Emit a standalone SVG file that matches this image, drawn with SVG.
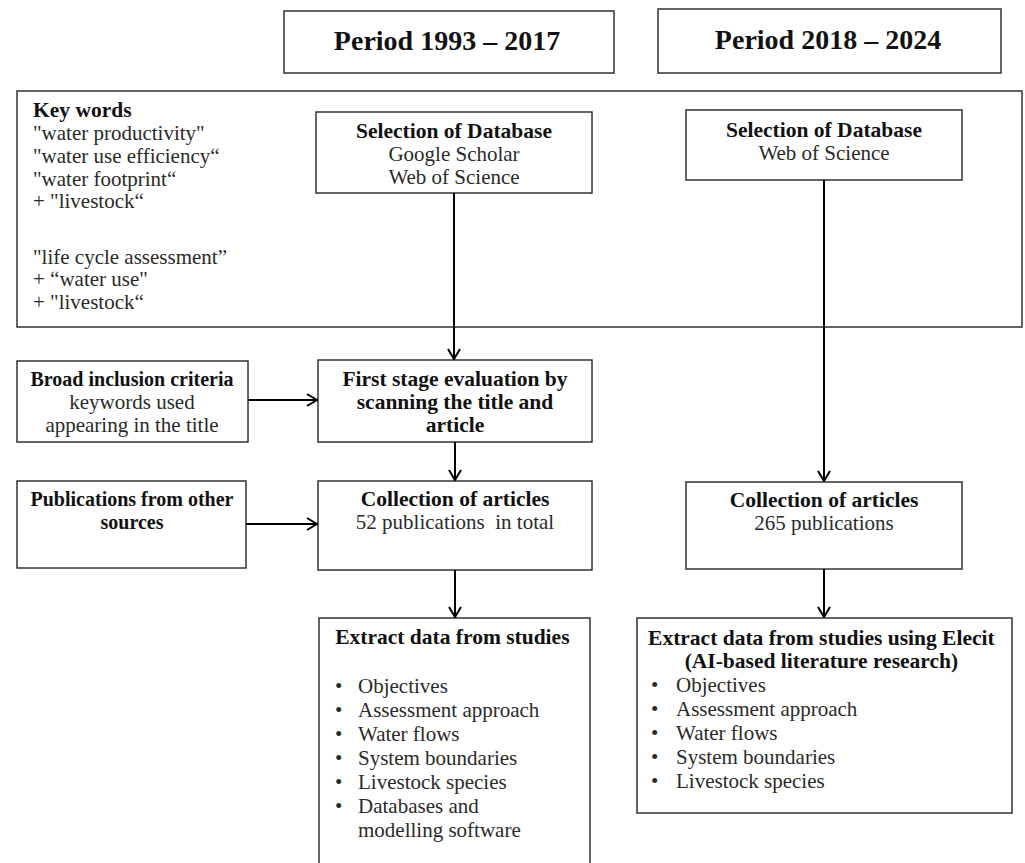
<svg xmlns="http://www.w3.org/2000/svg" width="1025" height="863" viewBox="0 0 1025 863">
<defs>
<marker id="arr" viewBox="0 0 12 14" refX="11" refY="7" markerWidth="12" markerHeight="14" markerUnits="userSpaceOnUse" orient="auto">
<path d="M1,1 L11,7 L1,13" fill="none" stroke="#000" stroke-width="2"/>
</marker>
<style>
.box{fill:#fff;stroke:#333;stroke-width:1.5}
.t{font-family:"Liberation Serif","Times New Roman",serif;font-size:21px;fill:#2a2a2a}
.b{font-weight:bold;fill:#111;font-size:21.5px}
.s{font-size:20px}
.c{text-anchor:middle}
.h{font-family:"Liberation Serif","Times New Roman",serif;font-size:28px;font-weight:bold;fill:#111;text-anchor:middle}
.con{stroke:#000;stroke-width:2;fill:none}
</style>
</defs>
<rect width="1025" height="863" fill="#fff"/>

<g id="period1"><rect class="box" x="284" y="11" width="330" height="62"/><text class="h" x="447" y="50">Period 1993 – 2017</text></g>
<g id="period2"><rect class="box" x="658" y="9" width="343" height="64"/><text class="h" x="828" y="49">Period 2018 – 2024</text></g>

<g id="keywords"><rect class="box" x="17" y="91" width="1005" height="236"/>
<text class="t"><tspan class="b" x="33" y="117">Key words</tspan>
<tspan x="33" y="140">"water productivity"</tspan>
<tspan x="33" y="163">"water use efficiency“</tspan>
<tspan x="33" y="186">"water footprint“</tspan>
<tspan x="33" y="208">+ "livestock“</tspan>
<tspan x="33" y="264">"life  cycle assessment”</tspan>
<tspan x="33" y="286">+ “water use"</tspan>
<tspan x="33" y="309">+ "livestock“</tspan></text></g>

<g id="db1"><rect class="box" x="316" y="112" width="276" height="81"/>
<text class="t c"><tspan class="b" x="454" y="138">Selection of Database</tspan><tspan x="454" y="161">Google Scholar</tspan><tspan x="454" y="184">Web of Science</tspan></text></g>
<g id="db2"><rect class="box" x="686" y="110" width="276" height="70"/>
<text class="t c"><tspan class="b" x="824" y="137">Selection of Database</tspan><tspan x="824" y="160">Web of Science</tspan></text></g>

<g id="broad"><rect class="box" x="17" y="361" width="231" height="81"/>
<text class="t c"><tspan class="b s" x="132" y="386">Broad inclusion criteria</tspan><tspan x="132" y="409">keywords used</tspan><tspan x="132" y="432">appearing in the title</tspan></text></g>
<g id="first"><rect class="box" x="318" y="360" width="274" height="82"/>
<text class="t c b"><tspan x="455" y="386">First stage evaluation by</tspan><tspan x="455" y="409">scanning the title and</tspan><tspan x="455" y="432">article</tspan></text></g>

<g id="other"><rect class="box" x="17" y="481" width="229" height="87"/>
<text class="t c b s"><tspan x="132" y="506">Publications from other</tspan><tspan x="132" y="529">sources</tspan></text></g>
<g id="coll1"><rect class="box" x="318" y="481" width="274" height="89"/>
<text class="t c"><tspan class="b" x="455" y="506">Collection of articles</tspan><tspan x="455" y="529" xml:space="preserve">52 publications  in total</tspan></text></g>
<g id="coll2"><rect class="box" x="686" y="482" width="276" height="87"/>
<text class="t c"><tspan class="b" x="824" y="507">Collection of articles</tspan><tspan x="824" y="530">265 publications</tspan></text></g>

<g id="extract1"><rect class="box" x="319" y="618" width="271" height="260"/>
<text class="t"><tspan class="b c" x="455" y="644">Extract data from studies</tspan>
<tspan x="335" y="693">•</tspan><tspan x="358" y="693">Objectives</tspan>
<tspan x="335" y="717">•</tspan><tspan x="358" y="717">Assessment approach</tspan>
<tspan x="335" y="741">•</tspan><tspan x="358" y="741">Water flows</tspan>
<tspan x="335" y="765">•</tspan><tspan x="358" y="765">System boundaries</tspan>
<tspan x="335" y="789">•</tspan><tspan x="358" y="789">Livestock species</tspan>
<tspan x="335" y="813">•</tspan><tspan x="358" y="813">Databases and</tspan>
<tspan x="358" y="837">modelling software</tspan></text></g>

<g id="extract2"><rect class="box" x="637" y="618" width="375" height="195"/>
<text class="t"><tspan class="b c" x="824" y="645">Extract data from studies using Elecit</tspan>
<tspan class="b c" x="824" y="668">(AI-based literature research)</tspan>
<tspan x="651" y="692">•</tspan><tspan x="676" y="692">Objectives</tspan>
<tspan x="651" y="716">•</tspan><tspan x="676" y="716">Assessment approach</tspan>
<tspan x="651" y="740">•</tspan><tspan x="676" y="740">Water flows</tspan>
<tspan x="651" y="764">•</tspan><tspan x="676" y="764">System boundaries</tspan>
<tspan x="651" y="788">•</tspan><tspan x="676" y="788">Livestock species</tspan></text></g>

<g id="connectors">
<line class="con" x1="454" y1="193" x2="454" y2="359" marker-end="url(#arr)"/>
<line class="con" x1="824" y1="180" x2="824" y2="481" marker-end="url(#arr)"/>
<line class="con" x1="248" y1="400" x2="317" y2="400" marker-end="url(#arr)"/>
<line class="con" x1="455" y1="442" x2="455" y2="480" marker-end="url(#arr)"/>
<line class="con" x1="246" y1="524" x2="317" y2="524" marker-end="url(#arr)"/>
<line class="con" x1="455" y1="570" x2="455" y2="617" marker-end="url(#arr)"/>
<line class="con" x1="824" y1="569" x2="824" y2="617" marker-end="url(#arr)"/>
</g>
</svg>
